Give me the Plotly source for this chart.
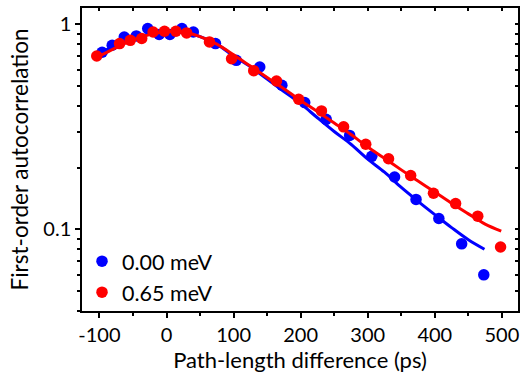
import plotly.graph_objects as go

# Measured data (path-length difference in ps, autocorrelation)
blue_x = [-96, -81, -63, -45, -28, -11, 5, 23, 40, 73, 104, 139, 172, 206, 238, 273, 306, 340, 372, 406, 440, 473]
blue_y = [0.730, 0.790, 0.867, 0.877, 0.953, 0.891, 0.891, 0.953, 0.917, 0.805, 0.667, 0.619, 0.504,
          0.415, 0.344, 0.287, 0.227, 0.180, 0.140, 0.113, 0.085, 0.060]

red_x = [-104, -70, -54, -37, -20, -3, 14, 30, 64, 97, 130, 164, 197, 231, 264, 297, 331, 364, 398, 431, 464, 498]
red_y = [0.700, 0.805, 0.835, 0.852, 0.917, 0.924, 0.924, 0.907, 0.820, 0.679, 0.594, 0.529,
         0.431, 0.378, 0.316, 0.260, 0.221, 0.183, 0.150, 0.1335, 0.116, 0.082]

# Fit curves
blue_fit_x = [-100, -75, -50, -25, 0, 25, 50, 75, 100, 125, 150, 175, 200, 225, 250, 275, 300,
              325, 350, 375, 400, 425, 450, 474]
blue_fit_y = [0.72, 0.79, 0.85, 0.90, 0.93, 0.925, 0.87, 0.80, 0.70, 0.62, 0.54, 0.47, 0.41, 0.35,
              0.30, 0.26, 0.22, 0.19, 0.16, 0.137, 0.118, 0.102, 0.089, 0.080]

red_fit_x = [-100, -75, -50, -25, 0, 25, 50, 75, 100, 125, 150, 175, 200, 225, 250, 275, 300,
             325, 350, 375, 400, 425, 450, 475, 499]
red_fit_y = [0.70, 0.77, 0.84, 0.89, 0.92, 0.92, 0.87, 0.80, 0.71, 0.625, 0.55, 0.485, 0.425, 0.375,
             0.33, 0.29, 0.252, 0.222, 0.195, 0.172, 0.152, 0.134, 0.119, 0.106, 0.098]

series_names = ["0.00 meV", "0.65 meV"]
x_ticks = [-100, 0, 100, 200, 300, 400, 500]
y_ticks = [0.1, 1]
y_minor = [0.04, 0.05, 0.06, 0.07, 0.08, 0.09, 0.2, 0.3, 0.4, 0.5, 0.6, 0.7, 0.8, 0.9]
x_minor = [-50, 50, 150, 250, 350, 450]

BLUE = "#0000FF"
RED = "#FF0000"
FONT = "Lato"

fig = go.Figure()
fig.add_trace(go.Scatter(x=blue_x, y=blue_y, mode="markers", name=series_names[0],
                         marker=dict(color=BLUE, size=11.5)))
fig.add_trace(go.Scatter(x=blue_fit_x, y=blue_fit_y, mode="lines", showlegend=False,
                         line=dict(color=BLUE, width=3, shape="spline")))
fig.add_trace(go.Scatter(x=red_x, y=red_y, mode="markers", name=series_names[1],
                         marker=dict(color=RED, size=11.5)))
fig.add_trace(go.Scatter(x=red_fit_x, y=red_fit_y, mode="lines", showlegend=False,
                         line=dict(color=RED, width=3, shape="spline")))

xr = [-126, 524]
yr = [-1.398, 0.0792]

fig.update_layout(
    width=520, height=375,
    margin=dict(l=82, r=2, t=8, b=64, autoexpand=False),
    paper_bgcolor="white", plot_bgcolor="white",
    font=dict(family=FONT, size=18, color="black"),
    showlegend=True,
    legend=dict(x=0.0, y=0.232, xanchor="left", yanchor="top",
                bgcolor="rgba(0,0,0,0)", font=dict(size=21.5), tracegroupgap=0),
    xaxis=dict(range=xr, automargin=False, showgrid=False, zeroline=False, showline=True,
               linecolor="black", linewidth=1.5, ticks="outside", ticklen=5, tickwidth=1.5,
               tickcolor="black", tickmode="array", tickvals=x_ticks,
               ticktext=[str(v) for v in x_ticks], ticklabeloverflow="allow",
               minor=dict(tickmode="array", tickvals=x_minor, ticks="outside", ticklen=3,
                          tickwidth=1.5, tickcolor="black"),
               title=dict(text="Path-length difference (ps)", standoff=8, font=dict(size=22)),
               tickfont=dict(size=20)),
    yaxis=dict(type="log", range=yr, automargin=False, showgrid=False, zeroline=False,
               showline=True, linecolor="black", linewidth=1.5, ticks="outside", ticklen=5,
               tickwidth=1.5, tickcolor="black", tickmode="array", tickvals=y_ticks,
               ticktext=["0.1", "1"], ticklabeloverflow="allow",
               minor=dict(tickmode="array", tickvals=y_minor, ticks="outside", ticklen=3,
                          tickwidth=1.5, tickcolor="black"),
               title=dict(text="First-order autocorrelation", standoff=8, font=dict(size=22.5)),
               tickfont=dict(size=20)),
    xaxis2=dict(range=xr, overlaying="x", side="top", automargin=False, showgrid=False,
                zeroline=False, showline=True, linecolor="black", linewidth=1.5,
                ticks="inside", ticklen=3, tickwidth=1.5, tickcolor="black",
                tickmode="array", tickvals=x_ticks + x_minor, showticklabels=False),
    yaxis2=dict(type="log", range=yr, overlaying="y", side="right", automargin=False,
                showgrid=False, zeroline=False, showline=True, linecolor="black",
                linewidth=1.5, ticks="inside", ticklen=3, tickwidth=1.5, tickcolor="black",
                tickmode="array", tickvals=y_ticks + y_minor, showticklabels=False),
)

# invisible trace so the mirrored axes are drawn
fig.add_trace(go.Scatter(x=[None], y=[None], xaxis="x2", yaxis="y2", showlegend=False,
                         hoverinfo="skip"))

fig.write_html("out.html", config={"displayModeBar": False},
               post_script="document.body.style.margin='0px';document.body.style.overflow='hidden';")
